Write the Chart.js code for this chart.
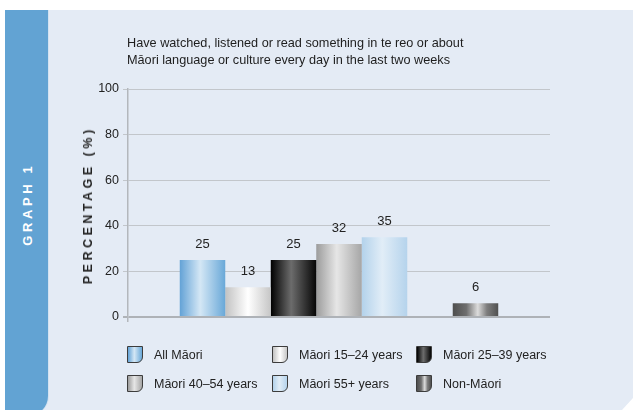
<!DOCTYPE html>
<html>
<head>
<meta charset="utf-8">
<script src="https://cdn.jsdelivr.net/npm/chart.js@4.4.1/dist/chart.umd.min.js"></script>
<style>
  html, body { margin: 0; padding: 0; background: #ffffff; }
  body { width: 633px; height: 410px; position: relative; overflow: hidden;
         font-family: "Liberation Sans", Arial, sans-serif; color: #222; }
  #panel { position: absolute; left: 5px; top: 10px; width: 628px; height: 400px;
           background: #e4ebf5;
           clip-path: polygon(0 0, 100% 0, 100% 388px, 617px 100%, 0 100%); }
  #band { position: absolute; left: 5px; top: 10px; width: 43px; height: 406px;
          background: #62a3d3; border-bottom-right-radius: 20px;
          box-shadow: 1px 0 0 #d2e2f1; }
  #graphLabel { position: absolute; left: 27px; top: 206px; color: #ffffff;
                font-weight: bold; font-size: 13px; letter-spacing: 3.6px; padding-left: 3.6px;
                white-space: nowrap; transform: translate(-50%, -50%) rotate(-90deg); }
  #c { position: absolute; left: 0; top: 0; }
  #title { position: absolute; left: 127px; top: 35px; font-size: 12.7px; line-height: 17px;
           color: #1e1e1e; white-space: nowrap; }
  #yTitle { position: absolute; left: 88px; top: 207px; font-weight: bold; font-size: 12.5px;
            letter-spacing: 3.5px; padding-left: 3.5px; color: #222; white-space: nowrap;
            transform: translate(-50%, -50%) rotate(-90deg); }
  #legend { position: absolute; left: 127px; top: 345px; display: grid;
            grid-template-columns: 145px 144px 144px; grid-auto-rows: 29px; }
  .item { display: flex; align-items: center; height: 19px; font-size: 12.5px; color: #222; white-space: nowrap; }
  .sw { width: 16px; height: 17px; box-sizing: border-box; border: 1px solid #3c3c3c;
        border-bottom-right-radius: 6px; margin-right: 11px; flex: none; }
</style>
</head>
<body>
<div id="panel"></div>
<div id="band"></div>
<div id="graphLabel">GRAPH 1</div>
<canvas id="c" width="633" height="410"></canvas>
<div id="title">Have watched, listened or read something in te reo or about<br>Māori language or culture every day in the last two weeks</div>
<div id="yTitle">PERCENTAGE (%)</div>
<div id="legend"></div>
<script>
// ---- data ----
const categories = ['All Māori', 'Māori 15–24 years', 'Māori 25–39 years', 'Māori 40–54 years', 'Māori 55+ years', 'Non-Māori'];
const percentages = [25, 13, 25, 32, 35, 6];
const yTicks = [0, 20, 40, 60, 80, 100];
const legendOrder = [0, 1, 2, 3, 4, 5];

// ---- styles (horizontal cylinder gradients, left -> right) ----
const gradientStops = [
  [[0, '#63a2d6'], [0.45, '#d4e7f5'], [1, '#69a8d8']],
  [[0, '#c2c2c2'], [0.5, '#ffffff'], [1, '#c6c6c6']],
  [[0, '#000000'], [0.45, '#6c6c6c'], [1, '#060606']],
  [[0, '#9c9c9c'], [0.45, '#e6e6e6'], [1, '#a6a6a6']],
  [[0, '#b3d2eb'], [0.45, '#e1edf7'], [1, '#b5d3ec']],
  [[0, '#4e4e4e'], [0.3, '#6e6e6e'], [0.55, '#dcdcdc'], [0.75, '#7e7e7e'], [1, '#505050']]
];
const FONT = '"Liberation Sans", Arial, sans-serif';
const AXIS_GREY = '#b3b7bc';

// datasets: five Māori groups, an empty spacer slot, then Non-Māori
const datasets = [];
categories.forEach((name, i) => {
  if (i === categories.length - 1) {
    datasets.push({ label: '', data: [null], styleIndex: -1 });
  }
  datasets.push({ label: name, data: [percentages[i]], styleIndex: i });
});

function makeGradient(ctx, x0, x1, stops) {
  const g = ctx.createLinearGradient(x0, 0, x1, 0);
  stops.forEach(([o, c]) => g.addColorStop(o, c));
  return g;
}

const gradientPlugin = {
  id: 'barGradients',
  beforeDatasetDraw(chart, args) {
    const ds = chart.data.datasets[args.index];
    if (ds.styleIndex < 0) return;
    args.meta.data.forEach(bar => {
      const half = bar.width / 2;
      const g = makeGradient(chart.ctx, bar.x - half, bar.x + half, gradientStops[ds.styleIndex]);
      bar.options = Object.assign({}, bar.options, { backgroundColor: g });
    });
  }
};

const valueLabels = {
  id: 'valueLabels',
  afterDatasetsDraw(chart) {
    const ctx = chart.ctx;
    ctx.save();
    ctx.font = '13px ' + FONT;
    ctx.fillStyle = '#222222';
    ctx.textAlign = 'center';
    ctx.textBaseline = 'middle';
    chart.data.datasets.forEach((ds, di) => {
      const meta = chart.getDatasetMeta(di);
      meta.data.forEach((bar, j) => {
        const v = ds.data[j];
        if (v === null || v === undefined) return;
        ctx.fillText(String(v), bar.x, bar.y - 16);
      });
    });
    ctx.restore();
  }
};

new Chart(document.getElementById('c'), {
  type: 'bar',
  data: { labels: [''], datasets },
  options: {
    responsive: false,
    animation: false,
    layout: { padding: { left: 60, right: 83, top: 89, bottom: 88 } },
    datasets: { bar: { barPercentage: 1, categoryPercentage: 0.7547, borderWidth: 0 } },
    plugins: { legend: { display: false }, title: { display: false }, tooltip: { enabled: false } },
    scales: {
      x: {
        display: true,
        ticks: { display: false },
        grid: {
          drawOnChartArea: false, tickLength: 5, lineWidth: 1.5,
          color: c => c.index === 0 ? AXIS_GREY : 'rgba(0,0,0,0)'
        },
        border: { display: false },
        afterFit: s => { s.height = 5; }
      },
      y: {
        min: 0, max: 100,
        afterBuildTicks: s => { s.ticks = yTicks.map(v => ({ value: v })); },
        afterFit: s => { s.width = 68; },
        ticks: { padding: 4, color: '#222222', font: { family: FONT, size: 12.5 } },
        grid: {
          color: c => (c.tick && c.tick.value === 0) ? '#aeb2b7' : '#c2c6cb',
          lineWidth: c => (c.tick && c.tick.value === 0) ? 2 : 1,
          tickLength: 5
        },
        border: { color: AXIS_GREY, width: 1.5 }
      }
    }
  },
  plugins: [gradientPlugin, valueLabels]
});

// legend (HTML), built from the same arrays
const legend = document.getElementById('legend');
legendOrder.forEach(i => {
  const item = document.createElement('div');
  item.className = 'item';
  const sw = document.createElement('span');
  sw.className = 'sw';
  sw.style.background = 'linear-gradient(to right, ' +
    gradientStops[i].map(([o, c]) => c + ' ' + Math.round(o * 100) + '%').join(', ') + ')';
  const tx = document.createElement('span');
  tx.textContent = categories[i];
  item.appendChild(sw);
  item.appendChild(tx);
  legend.appendChild(item);
});
</script>
</body>
</html>
